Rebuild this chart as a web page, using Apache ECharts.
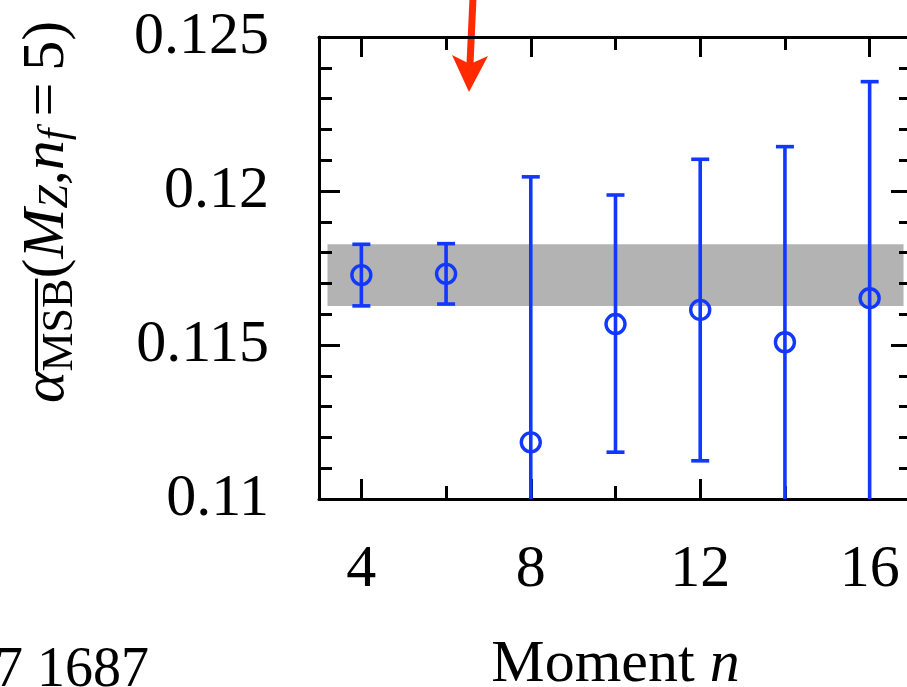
<!DOCTYPE html>
<html>
<head>
<meta charset="utf-8">
<script src="https://cdn.jsdelivr.net/npm/echarts@6/dist/echarts.min.js"></script>
<style>
html,body{margin:0;padding:0;background:#fff;}
#chart{width:907px;height:687px;}
</style>
</head>
<body>
<div id="chart"></div>
<script>
// ---- data ----
const moments = [4, 6, 8, 10, 12, 14, 16];
const alphaValues = [0.11727, 0.11731, 0.11184, 0.11568, 0.11614, 0.11509, 0.11652];
const errHigh = [0.11827, 0.11829, 0.12046, 0.11987, 0.12103, 0.12144, 0.12355];
const errLow = [0.11627, 0.11633, 0.10322, 0.11152, 0.11124, 0.10874, 0.10949];
const bandRange = [0.11627, 0.11827];
const bandMoments = [3.2, 16.8];
const xMajorTicks = [4, 8, 12, 16];
const xMinorTicks = [6, 10, 14];
const yTicks = [0.11, 0.115, 0.12, 0.125];
const yTickLabels = ['0.11', '0.115', '0.12', '0.125'];

const FONT = '"Liberation Serif", "DejaVu Serif", serif';
const BLUE = '#1238ff';

const measure = (() => {
  const ctx = document.createElement('canvas').getContext('2d');
  return (txt, font) => { ctx.font = font; return ctx.measureText(txt).width; };
})();
const alphaW = measure('α', 'italic 60px "Liberation Serif"');
const msbW = measure('MSB', '44px "Liberation Serif"');

const chart = echarts.init(document.getElementById('chart'));

const axisLineStyle = { color: '#000', width: 3 };
function xAxisDef(position, ticks, len, withLabels) {
  return {
    type: 'value', position: position, min: 3, max: 17, gridIndex: 0,
    axisLine: { show: true, onZero: false, lineStyle: axisLineStyle },
    axisTick: { show: true, inside: true, length: len, customValues: ticks, lineStyle: { color: '#000', width: 3 } },
    axisLabel: withLabels ? {
      show: true, customValues: ticks, margin: 41,
      fontFamily: FONT, fontSize: 60, color: '#000'
    } : { show: false },
    splitLine: { show: false }
  };
}
function yAxisDef(position, withLabels) {
  return {
    type: 'value', position: position, min: 0.11, max: 0.125, interval: 0.005,
    axisLine: { show: true, onZero: false, lineStyle: axisLineStyle },
    axisTick: { show: true, inside: true, length: 21, lineStyle: { color: '#000', width: 3 } },
    minorTick: { show: true, splitNumber: 5, length: 13, lineStyle: { color: '#000', width: 3 } },
    axisLabel: withLabels ? {
      show: true, margin: 50, fontFamily: FONT, fontSize: 60, color: '#000',
      formatter: (v) => {
        const i = yTicks.findIndex(t => Math.abs(t - v) < 1e-7);
        return i >= 0 ? yTickLabels[i] : '';
      }
    } : { show: false },
    splitLine: { show: false }
  };
}

const xA0 = xAxisDef('bottom', xMajorTicks, 20, true);
xA0.name = 'Moment {it|n}';
xA0.nameLocation = 'middle';
xA0.nameGap = 136;
xA0.nameTextStyle = {
  fontFamily: FONT, fontSize: 60, color: '#000',
  rich: { it: { fontFamily: FONT, fontSize: 60, fontStyle: 'italic', color: '#000' } }
};
const xA1 = xAxisDef('bottom', xMinorTicks, 13, false);
xA1.axisLine.show = false;
const xA2 = xAxisDef('top', xMajorTicks, 20, false);
const xA3 = xAxisDef('top', xMinorTicks, 13, false);
xA3.axisLine.show = false;

const option = {
  animation: false,
  backgroundColor: '#fff',
  grid: { left: 319, top: 37, width: 593, height: 462, outerBoundsMode: 'none', containLabel: false },
  xAxis: [xA0, xA1, xA2, xA3],
  yAxis: [yAxisDef('left', true), yAxisDef('right', false)],
  graphic: [
    {
      type: 'group', x: 47, y: 403, rotation: Math.PI / 2,
      children: [
        {
          type: 'text', x: 0, y: 0,
          style: {
            text: '{a|α}{s1|MSB}{b|(}{i|M}{s2|Z}{b|,}{i|n}{s2|f}{b|\u2009=\u20095)}',
            align: 'left', verticalAlign: 'middle', fill: '#000',
            fontFamily: FONT, fontSize: 60,
            rich: {
              a: { fontFamily: FONT, fontSize: 60, fontStyle: 'italic', fill: '#000' },
              s1: { fontFamily: FONT, fontSize: 44, padding: [26, 0, 0, 0], fill: '#000' },
              b: { fontFamily: FONT, fontSize: 60, fill: '#000' },
              i: { fontFamily: FONT, fontSize: 60, fontStyle: 'italic', fill: '#000' },
              s2: { fontFamily: FONT, fontSize: 42, fontStyle: 'italic', padding: [18, 0, 0, 0], fill: '#000' }
            }
          }
        },
        {
          type: 'rect', shape: { x: alphaW, y: -12, width: msbW, height: 3 },
          style: { fill: '#000' }
        }
      ]
    },
    {
      type: 'text', x: 149, y: 671,
      style: { text: '7 1687', align: 'right', verticalAlign: 'middle', fontFamily: FONT, fontSize: 56, fill: '#000' }
    },
    {
      type: 'polyline', shape: { points: [[473, -2], [470, 64]] },
      style: { stroke: '#ff2a00', lineWidth: 7, fill: null }
    },
    {
      type: 'polygon', shape: { points: [[469, 92], [452, 55], [470, 64], [488, 56]] },
      style: { fill: '#ff2a00' }
    }
  ],
  series: [
    {
      type: 'custom', name: 'band', xAxisIndex: 0, yAxisIndex: 0, z: -1, clip: true,
      data: [[bandMoments[0], bandMoments[1], bandRange[0], bandRange[1]]],
      renderItem: (params, api) => {
        const p0 = api.coord([api.value(0), api.value(3)]);
        const p1 = api.coord([api.value(1), api.value(2)]);
        return { type: 'rect', shape: { x: p0[0], y: p0[1], width: p1[0] - p0[0], height: p1[1] - p0[1] },
                 style: { fill: '#b3b3b3' } };
      }
    },
    {
      type: 'custom', name: 'errors', xAxisIndex: 0, yAxisIndex: 0, z: 3, clip: true,
      data: moments.map((m, i) => [m, errLow[i], errHigh[i]]),
      renderItem: (params, api) => {
        const top = api.coord([api.value(0), api.value(2)]);
        const bot = api.coord([api.value(0), api.value(1)]);
        const hw = 9;
        const st = { stroke: BLUE, lineWidth: 3.6 };
        return { type: 'group', children: [
          { type: 'line', shape: { x1: top[0], y1: top[1], x2: bot[0], y2: bot[1] }, style: st },
          { type: 'line', shape: { x1: top[0] - hw, y1: top[1], x2: top[0] + hw, y2: top[1] }, style: st },
          { type: 'line', shape: { x1: bot[0] - hw, y1: bot[1], x2: bot[0] + hw, y2: bot[1] }, style: st }
        ] };
      }
    },
    {
      type: 'scatter', name: 'alpha', xAxisIndex: 0, yAxisIndex: 0, z: 4,
      symbol: 'circle', symbolSize: 19,
      itemStyle: { color: 'rgba(0,0,0,0)', borderColor: BLUE, borderWidth: 3.4, opacity: 1 },
      data: moments.map((m, i) => [m, alphaValues[i]])
    }
  ]
};
chart.setOption(option);
</script>
</body>
</html>
